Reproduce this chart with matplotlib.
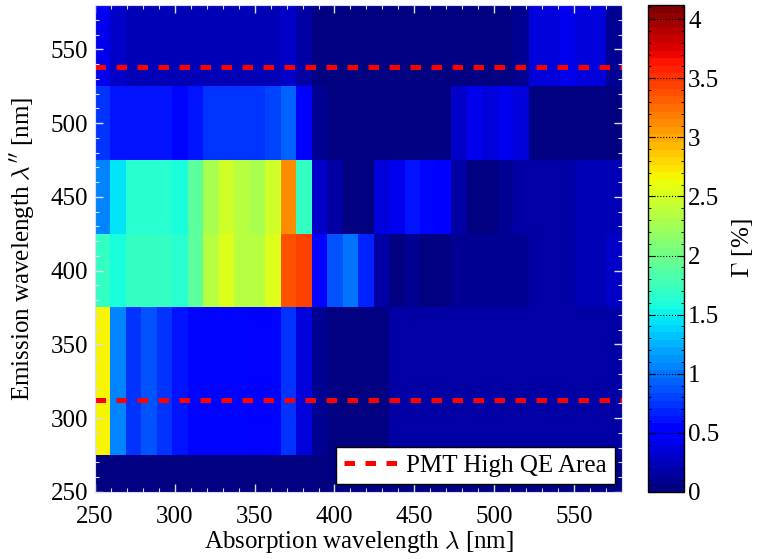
import numpy as np
import matplotlib
matplotlib.use('Agg')
import matplotlib.pyplot as plt
from matplotlib.ticker import MultipleLocator

plt.rcParams['font.family'] = ['Liberation Serif', 'DejaVu Serif']
plt.rcParams['mathtext.fontset'] = 'cm'

# absorption bins (nm) and emission bin edges (nm)
absorption_range = (250, 580)
n_absorption = 34
emission_edges = [250, 275, 375, 425, 475, 525, 580]

# Gamma [%] for each emission bin (bottom -> top), 34 absorption columns each
gamma_275 = [0.04] * 34
gamma_375 = [2.70, 1.06, 0.77, 0.87, 0.74, 0.58, 0.52, 0.52, 0.52, 0.52,
             0.50, 0.52, 0.71, 0.35, 0.10, 0.04, 0.04, 0.04, 0.04, 0.13,
             0.13, 0.13, 0.13, 0.13, 0.13, 0.13, 0.13, 0.13, 0.13, 0.13,
             0.13, 0.13, 0.13, 0.13]
gamma_425 = [1.72, 1.60, 1.72, 1.72, 1.72, 1.66, 1.93, 2.35, 2.52, 2.32,
             2.32, 2.52, 3.35, 3.44, 0.57, 0.84, 1.00, 0.68, 0.19, 0.06,
             0.12, 0.05, 0.05, 0.10, 0.10, 0.10, 0.10, 0.12, 0.19, 0.19,
             0.19, 0.20, 0.20, 0.26]
gamma_475 = [1.09, 1.47, 1.66, 1.66, 1.66, 1.60, 1.90, 2.26, 2.45, 2.35,
             2.26, 2.45, 3.09, 1.70, 0.26, 0.13, 0.02, 0.02, 0.33, 0.42,
             0.60, 0.52, 0.46, 0.13, 0.04, 0.04, 0.10, 0.17, 0.17, 0.16,
             0.16, 0.22, 0.22, 0.22]
gamma_525 = [0.72, 0.61, 0.61, 0.61, 0.61, 0.52, 0.58, 0.74, 0.77, 0.77,
             0.77, 0.78, 0.94, 0.50, 0.10, 0.06, 0.06, 0.06, 0.06, 0.06,
             0.06, 0.06, 0.06, 0.26, 0.40, 0.37, 0.42, 0.35, 0.06, 0.06,
             0.06, 0.06, 0.06, 0.06]
gamma_580 = [0.39, 0.29, 0.21, 0.21, 0.21, 0.20, 0.20, 0.20, 0.20, 0.20,
             0.20, 0.20, 0.28, 0.13, 0.05, 0.05, 0.05, 0.05, 0.05, 0.05,
             0.05, 0.05, 0.05, 0.05, 0.05, 0.05, 0.05, 0.10, 0.36, 0.36,
             0.39, 0.33, 0.33, 0.10]

pmt_limits = [312, 538]
cbar_max = 4.12

gamma = np.array([gamma_275, gamma_375, gamma_425, gamma_475, gamma_525, gamma_580])
x_edges = np.linspace(absorption_range[0], absorption_range[1], n_absorption + 1)

fig = plt.figure(figsize=(7.59, 5.59), dpi=100)
ax = fig.add_axes([0.125, 0.12, 0.6945, 0.871])
cax = fig.add_axes([0.854, 0.12, 0.047, 0.871])

cmap = plt.get_cmap('jet', 64)
mesh = ax.pcolormesh(x_edges, emission_edges, gamma, cmap=cmap, vmin=0, vmax=cbar_max)

for i, yv in enumerate(pmt_limits):
    ax.plot(absorption_range, [yv, yv], color='red', lw=3.6, dashes=(2.1, 2.1),
            solid_capstyle='butt', dash_capstyle='butt',
            label='PMT High QE Area' if i == 0 else None)

ax.set_xlim(250, 580)
ax.set_ylim(250, 580)
ax.xaxis.set_major_locator(MultipleLocator(50))
ax.yaxis.set_major_locator(MultipleLocator(50))
ax.xaxis.set_minor_locator(MultipleLocator(10))
ax.yaxis.set_minor_locator(MultipleLocator(10))
edge = '#dcdcf0'
ax.tick_params(which='both', direction='in', top=True, right=True, color=edge,
               labelsize=18)
ax.tick_params(axis='x', which='major', pad=10)
ax.tick_params(axis='y', which='major', pad=5)
ax.tick_params(which='major', length=6, width=1)
ax.tick_params(which='minor', length=3, width=0.8)
for s in ax.spines.values():
    s.set_color(edge)

ax.set_xlabel(r'Absorption wavelength $\lambda$ [nm]', fontsize=18, labelpad=1)
ax.set_ylabel(r"Emission wavelength $\lambda^{\prime\prime}$ [nm]", fontsize=18, labelpad=10)

leg = ax.legend(loc='lower right', fontsize=18, frameon=True, fancybox=False,
                framealpha=1, edgecolor='black', borderaxespad=0.3,
                handlelength=2.3, borderpad=0.3, handletextpad=0.2)
leg.get_frame().set_linewidth(1.0)

cb = fig.colorbar(mesh, cax=cax)
cb.set_ticks(np.arange(0, 4.01, 0.5))
cb.set_ticklabels(['0', '0.5', '1', '1.5', '2', '2.5', '3', '3.5', '4'])
cax.yaxis.set_minor_locator(MultipleLocator(0.1))
cax.tick_params(which='both', direction='in', left=True, right=True, labelsize=18, pad=3)
cax.tick_params(which='major', length=5)
cax.tick_params(which='minor', length=2.5)
for t in np.arange(0.5, 4.01, 0.5):
    cax.axhline(t, color='black', lw=0.8, ls=':')
cb.outline.set_linewidth(1.0)
cb.set_label(r'$\Gamma$ [%]', fontsize=18, labelpad=8)

fig.savefig('out.png', dpi=100, facecolor='white')
